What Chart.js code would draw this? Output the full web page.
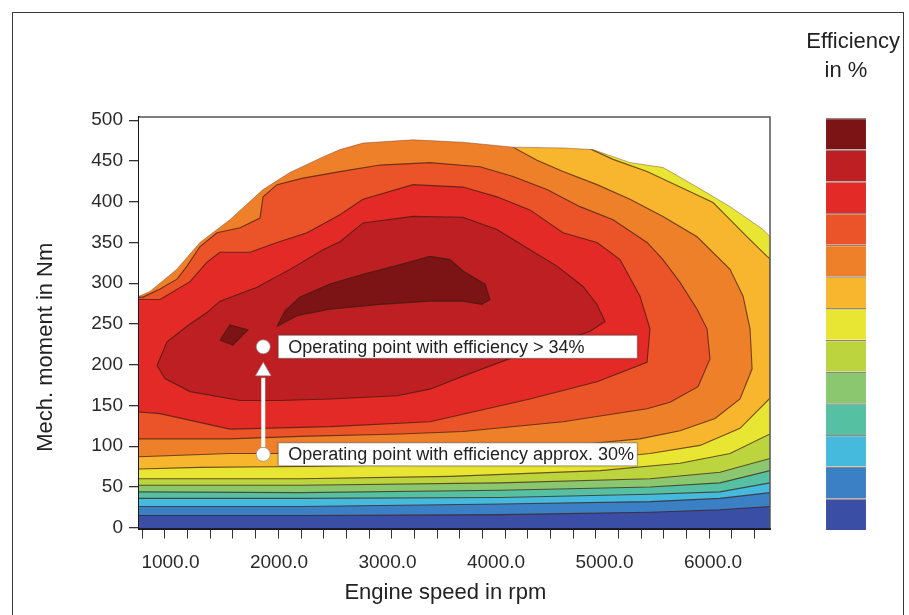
<!DOCTYPE html>
<html>
<head>
<meta charset="utf-8">
<title>Engine efficiency map</title>
<script src="https://cdn.jsdelivr.net/npm/chart.js@4.4.1/dist/chart.umd.min.js"></script>
<style>
  html, body { margin: 0; padding: 0; background: #fff; overflow: hidden; }
  #page { position: relative; width: 909px; height: 615px; }
  #frame { position: absolute; left: 12px; top: 12px; width: 892px; height: 640px; border: 1px solid #3a3a3a; box-sizing: border-box; }
  #map { position: absolute; left: 0; top: 0; }
  #scale { position: absolute; left: 792px; top: 20px; }
</style>
</head>
<body>
<div id="page">
  <div id="frame"></div>
  <canvas id="map" width="909" height="615"></canvas>
  <canvas id="scale" width="108" height="510"></canvas>
</div>
<script>
// axes
const RPM_MIN = 710, RPM_MAX = 6525;
const RPM_LABELS = [1000, 2000, 3000, 4000, 5000, 6000];
const MINOR_TICK_START = 740, MINOR_TICK_STEP = 209, MINOR_TICK_COUNT = 28;
const TORQUE_TICKS = [0, 50, 100, 150, 200, 250, 300, 350, 400, 450, 500];

// efficiency classes, lowest to highest
const LEVEL_COLORS = ['#3b4ea6', '#3b80c5', '#46badc', '#55c1a2', '#8bc76e', '#bcd43d',
  '#e9e533', '#f8b52e', '#ef802a', '#eb5329', '#e32a26', '#be1f23', '#7c1416'];

// full-load torque curve [rpm, Nm]
const FULL_LOAD = [[710,284],[811,290],[1057,317],[1272,350],[1548,378],[1853,415],[2101,436],
  [2405,455],[2562,464],[2774,472],[3235,476],[3696,473],[4157,467],[4618,466],[4894,464],
  [5235,448],[5540,442],[5853,418],[6157,394],[6461,366],[6525,357]];

// lower borders of the low classes (area above them up to full load)
const ISO_2 = [[710,15],[2194,15],[4037,16],[5419,19],[6064,22],[6525,26]];
const ISO_3 = [[710,26],[2194,26],[4037,29],[5419,32],[6064,36],[6525,43]];
const ISO_4 = [[710,36],[2194,36],[4037,37],[5419,41],[6064,44],[6525,55]];
const ISO_5 = [[710,44],[2194,43],[4037,46],[5419,50],[6064,55],[6525,70]];
const ISO_6 = [[710,52],[2194,52],[4037,55],[5419,60],[6064,68],[6525,85]];
const ISO_7 = [[710,60],[2194,60],[3576,63],[4958,70],[5696,79],[6157,91],[6525,115]];

// closed outlines of the high classes
const ISO_8 = [[710,72],[1272,74],[2194,75],[3116,77],[4037,80],[4958,85],[5419,91],[5880,101],
  [6249,122],[6525,159],[6525,330],[6498,333],[6314,357],[6157,378],[6000,399],[5696,418],
  [5392,437],[5079,452],[4867,465],[4867,504],[710,504]];
const ISO_9 = [[710,87],[1548,91],[2194,91],[3116,93],[4037,97],[4774,102],[5327,109],[5696,119],
  [6019,134],[6249,158],[6360,195],[6341,244],[6277,284],[6157,317],[5853,357],[5539,382],
  [5235,403],[4931,421],[4618,437],[4378,451],[4157,467],[4157,504],[710,504]];
const ISO_10 = [[710,109],[1548,109],[2194,112],[3116,115],[3696,118],[4618,130],[5392,146],
  [5604,154],[5862,173],[5972,207],[5945,244],[5853,268],[5696,301],[5539,329],[5392,350],
  [5079,378],[4774,394],[4470,415],[4157,431],[3853,443],[3392,448],[2931,445],[2562,437],
  [2221,429],[1982,421],[1853,406],[1825,380],[1641,368],[1429,362],[1272,345],[1152,321],
  [1060,305],[903,293],[747,283],[710,283]];
const ISO_11 = [[710,142],[903,140],[1548,121],[2470,124],[3392,130],[4313,158],[4931,179],
  [5392,203],[5419,244],[5327,284],[5143,329],[4931,350],[4618,362],[4313,390],[4009,406],
  [3696,418],[3235,421],[2774,403],[2562,384],[2258,362],[1982,350],[1733,338],[1456,338],
  [1336,326],[1180,302],[903,280],[710,280]];
const ISO_12 = [[876,199],[968,228],[1180,250],[1336,264],[1456,278],[1797,295],[2101,317],
  [2406,341],[2562,351],[2774,374],[3235,382],[3696,381],[4009,366],[4313,341],[4562,321],
  [4802,296],[4931,274],[5005,253],[4866,241],[4618,229],[4157,209],[3696,186],[3392,170],
  [3088,162],[2470,158],[2009,156],[1641,156],[1180,167],[949,183],[876,199]];
const ISO_13 = [[1982,247],[2055,266],[2194,283],[2470,299],[2774,311],[3116,323],[3392,333],
  [3576,329],[3696,315],[3899,299],[3945,280],[3871,274],[3696,278],[3392,278],[2931,274],
  [2470,268],[2166,260],[1982,247]];
const ISO_13B = [[1456,230],[1548,249],[1714,243],[1576,224],[1456,230]];

// operating points
const OP_RPM = [1855, 1855];
const OP_TORQUE = [222, 90];
const OP_LABELS = ['Operating point with efficiency > 34%', 'Operating point with efficiency approx. 30%'];

Chart.defaults.font.family = '"Liberation Sans", Arial, sans-serif';
Chart.defaults.color = '#222';

const toXY = pts => pts.map(([x, y]) => ({x, y}));
const LINE_COLOR = 'rgba(60,25,15,0.7)';

function band(level, pts, fill) {
  return {
    data: toXY(pts), fill: fill,
    backgroundColor: LEVEL_COLORS[level - 1],
    borderColor: LINE_COLOR, borderWidth: 1.1,
    pointRadius: 0, order: 100 - level
  };
}

const datasets = [
  Object.assign(band(1, FULL_LOAD, 'start'), {borderWidth: 0}),
  band(2, ISO_2, 'end'), band(3, ISO_3, 'end'), band(4, ISO_4, 'end'),
  band(5, ISO_5, 'end'), band(6, ISO_6, 'end'), band(7, ISO_7, 'end'),
  band(8, ISO_8, 'shape'), band(9, ISO_9, 'shape'), band(10, ISO_10, 'shape'),
  band(11, ISO_11, 'shape'), band(12, ISO_12, 'shape'), band(13, ISO_13, 'shape'),
  band(13, ISO_13B, 'shape'),
  // white above full load
  { data: toXY(FULL_LOAD), fill: 'end', backgroundColor: '#fff',
    borderColor: 'rgba(110,60,40,0.45)', borderWidth: 1, pointRadius: 0, order: 5 },
  // arrow
  { data: [{x: OP_RPM[1], y: 99}, {x: OP_RPM[0], y: 184}], borderColor: '#fff', borderWidth: 4,
    pointRadius: 0, fill: false, order: 2 },
  { data: [{x: OP_RPM[0], y: 192}], showLine: false, pointStyle: 'triangle', pointRadius: 9,
    pointBackgroundColor: '#fff', pointBorderColor: 'rgba(150,150,150,0.6)', order: 1 },
  { data: OP_RPM.map((x, i) => ({x, y: OP_TORQUE[i]})), showLine: false, pointRadius: 7,
    pointBackgroundColor: '#fff', pointBorderColor: 'rgba(140,140,140,0.7)', pointBorderWidth: 1, order: 0 }
];

const plotFrame = {
  id: 'plotFrame',
  afterDatasetsDraw(chart) {
    const {ctx, chartArea: {left, top, right, bottom}} = chart;
    ctx.save();
    ctx.strokeStyle = '#555';
    ctx.lineWidth = 1.5;
    ctx.beginPath();
    ctx.moveTo(left, top);
    ctx.lineTo(right, top);
    ctx.lineTo(right, bottom);
    ctx.stroke();
    ctx.restore();
  }
};

const callouts = {
  id: 'callouts',
  afterDatasetsDraw(chart) {
    const {ctx, scales: {x, y}} = chart;
    ctx.save();
    ctx.font = '18px "Liberation Sans", Arial, sans-serif';
    ctx.textBaseline = 'middle';
    OP_LABELS.forEach((txt, i) => {
      const cx = x.getPixelForValue(OP_RPM[i]);
      const cy = y.getPixelForValue(OP_TORQUE[i]);
      const bx = cx + 15, bw = 359, bh = 23, by = cy - bh / 2;
      ctx.shadowColor = 'rgba(0,0,0,0.3)';
      ctx.shadowBlur = 3;
      ctx.fillStyle = '#fff';
      ctx.fillRect(bx, by, bw, bh);
      ctx.shadowBlur = 0;
      ctx.strokeStyle = 'rgba(90,90,90,0.5)';
      ctx.lineWidth = 1;
      ctx.strokeRect(bx, by, bw, bh);
      ctx.fillStyle = '#222';
      ctx.fillText(txt, bx + 10, cy + 1);
    });
    ctx.restore();
  }
};

new Chart(document.getElementById('map'), {
  type: 'line',
  data: { datasets },
  plugins: [plotFrame, callouts],
  options: {
    responsive: false,
    animation: false,
    events: [],
    layout: { padding: { top: 117, right: 139, left: 0, bottom: 0 } },
    elements: { line: { tension: 0 }, point: { radius: 0 } },
    plugins: { legend: { display: false }, tooltip: { enabled: false } },
    scales: {
      x: {
        type: 'linear', position: 'bottom', min: RPM_MIN, max: RPM_MAX, weight: 1,
        afterBuildTicks: s => { s.ticks = RPM_LABELS.map(v => ({value: v})); },
        afterFit: s => { s.height = 74.5; },
        grid: { display: false },
        border: { display: false },
        ticks: { font: { size: 19 }, color: '#2a2a2a', padding: 2.5, maxRotation: 0, autoSkip: false,
          callback: v => Number(v).toFixed(1) },
        title: { display: true, text: 'Engine speed in rpm' + '\u00a0'.repeat(3), font: { size: 22 },
          color: '#222', padding: { top: 0, bottom: 9 } }
      },
      xm: {
        type: 'linear', position: 'bottom', min: RPM_MIN, max: RPM_MAX, weight: 0,
        afterBuildTicks: s => {
          const t = [];
          for (let i = 0; i < MINOR_TICK_COUNT; i++) t.push({value: MINOR_TICK_START + i * MINOR_TICK_STEP});
          s.ticks = t;
        },
        afterFit: s => { s.height = 12; },
        grid: { drawOnChartArea: false, drawTicks: true, tickLength: 10, color: '#333', lineWidth: 1 },
        border: { display: true, color: '#1a1a1a', width: 2 },
        ticks: { display: false }
      },
      y: {
        min: -1, max: 504,
        afterBuildTicks: s => { s.ticks = TORQUE_TICKS.map(v => ({value: v})); },
        afterFit: s => { s.width = 139; },
        grid: { drawOnChartArea: false, drawTicks: true, tickLength: 10, color: '#333', lineWidth: 1.3 },
        border: { display: true, color: '#1a1a1a', width: 2 },
        ticks: { font: { size: 19 }, color: '#2a2a2a', padding: 6 },
        title: { display: true, text: 'Mech. moment in Nm' + '\u00a0'.repeat(8), font: { size: 22 },
          color: '#222', padding: { top: 33, bottom: 0 } }
      }
    }
  }
});

// colour key
new Chart(document.getElementById('scale'), {
  type: 'bar',
  data: {
    labels: [''],
    datasets: LEVEL_COLORS.map(c => ({
      data: [1], backgroundColor: c,
      borderColor: 'rgba(60,30,20,0.55)', borderWidth: { top: 1.5, bottom: 0, left: 0, right: 0 },
      borderSkipped: false, barPercentage: 0.37, categoryPercentage: 1
    }))
  },
  options: {
    responsive: false,
    animation: false,
    events: [],
    layout: { padding: 0 },
    scales: {
      x: { display: false, stacked: true },
      y: { display: false, stacked: true, min: 0, max: LEVEL_COLORS.length }
    },
    plugins: {
      legend: { display: false },
      tooltip: { enabled: false },
      title: { display: true, text: 'Efficiency', align: 'end', font: { size: 22, weight: 'normal' },
        color: '#222', padding: { top: 9, bottom: 0 } },
      subtitle: { display: true, text: 'in %', font: { size: 22 }, color: '#222',
        padding: { top: 2, bottom: 34 } }
    }
  }
});
</script>
</body>
</html>
